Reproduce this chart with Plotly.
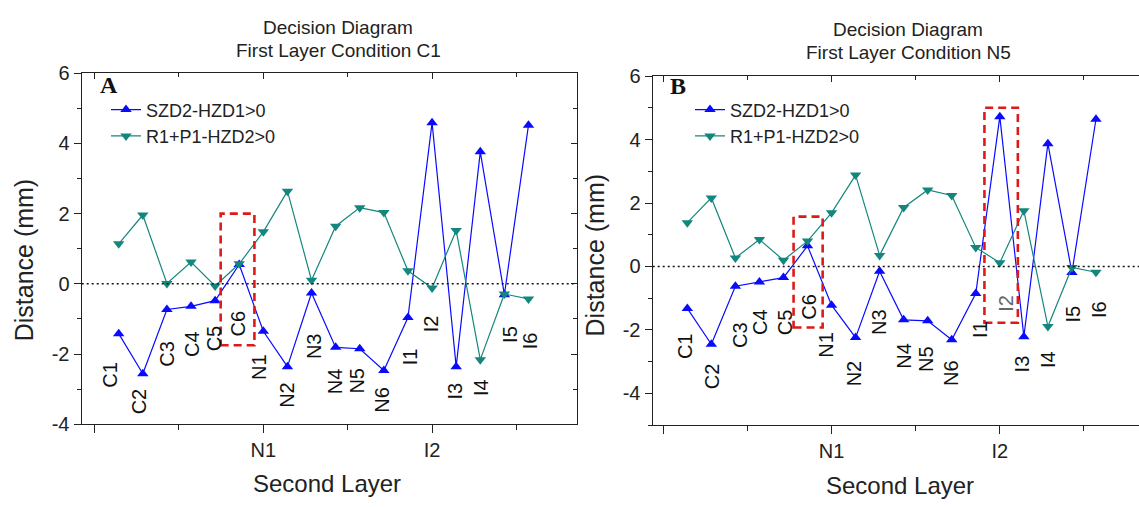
import plotly.graph_objects as go

# ---------------- data ----------------
categories = ["C1", "C2", "C3", "C4", "C5", "C6",
              "N1", "N2", "N3", "N4", "N5", "N6",
              "I1", "I2", "I3", "I4", "I5", "I6"]

szd_A = [-1.42, -2.56, -0.73, -0.64, -0.48, 0.55, -1.35, -2.36, -0.26,
         -1.81, -1.85, -2.47, -0.96, 4.59, -2.36, 3.76, -0.31, 4.52]
rp_A = [1.14, 1.96, 0.01, 0.62, -0.06, 0.57, 1.48, 2.64, 0.10,
        1.64, 2.17, 2.03, 0.37, -0.12, 1.52, -2.16, -0.29, -0.43]

szd_B = [-1.32, -2.45, -0.62, -0.49, -0.35, 0.65, -1.22, -2.24, -0.15,
         -1.68, -1.71, -2.31, -0.85, 4.72, -2.21, 3.87, -0.19, 4.64]
rp_B = [1.38, 2.16, 0.27, 0.85, 0.20, 0.80, 1.69, 2.88, 0.35,
        1.86, 2.41, 2.24, 0.60, 0.12, 1.76, -1.89, -0.03, -0.18]

series_names = ["SZD2-HZD1>0", "R1+P1-HZD2>0"]
x_major_ticks = [-1, 6, 13]
x_major_text = ["", "N1", "I2"]
x_minor_ticks = [2.5, 9.5, 16.5]

# label anchor positions (layout) for the category annotations
lab_A = [(-0.36, -2.59), (0.88, -3.35), (1.99, -2.0), (3.03, -1.72), (3.93, -1.54), (4.99, -1.13),
         (5.79, -2.36), (6.97, -3.17), (8.08, -1.76), (8.95, -2.76), (9.88, -2.76), (10.91, -3.31),
         (12.09, -2.09), (12.99, -1.13), (13.95, -3.04), (15.06, -2.95), (16.24, -1.45), (17.07, -1.63)]
lab_B = [(-0.10, -2.51), (1.01, -3.47), (2.19, -2.16), (3.05, -1.76), (4.06, -1.76), (5.07, -1.26),
         (5.76, -2.47), (6.97, -3.37), (8.0, -1.76), (9.0, -2.82), (9.92, -2.92), (10.99, -3.37),
         (12.17, -1.97), (13.28, -1.16), (13.9, -3.07), (15.0, -2.92), (16.05, -1.51), (17.1, -1.36)]

xs = list(range(len(categories)))

W, H = 1139, 507
FONT = "Liberation Sans, Arial, sans-serif"
AX = "#222222"
BLUE = "#0a0aff"
TEAL = "#13877d"

def px(v):
    return v / W

def py(v):
    return 1 - v / H

fig = go.Figure()

# panel A
fig.add_trace(go.Scatter(x=xs, y=szd_A, mode="lines+markers", name=series_names[0],
                         line=dict(color=BLUE, width=1.2),
                         marker=dict(symbol="triangle-up", size=10, color=BLUE),
                         xaxis="x", yaxis="y", legend="legend"))
fig.add_trace(go.Scatter(x=xs, y=rp_A, mode="lines+markers", name=series_names[1],
                         line=dict(color=TEAL, width=1.2),
                         marker=dict(symbol="triangle-down", size=10, color=TEAL),
                         xaxis="x", yaxis="y", legend="legend"))
# panel B
fig.add_trace(go.Scatter(x=xs, y=szd_B, mode="lines+markers", name=series_names[0],
                         line=dict(color=BLUE, width=1.2),
                         marker=dict(symbol="triangle-up", size=10, color=BLUE),
                         xaxis="x2", yaxis="y2", legend="legend2"))
fig.add_trace(go.Scatter(x=xs, y=rp_B, mode="lines+markers", name=series_names[1],
                         line=dict(color=TEAL, width=1.2),
                         marker=dict(symbol="triangle-down", size=10, color=TEAL),
                         xaxis="x2", yaxis="y2", legend="legend2"))
# dummy traces for mirror tick axes
fig.add_trace(go.Scatter(x=[None], y=[None], xaxis="x3", yaxis="y3", showlegend=False, hoverinfo="skip"))
fig.add_trace(go.Scatter(x=[None], y=[None], xaxis="x4", yaxis="y2", showlegend=False, hoverinfo="skip"))

xrA = [-1.535, 19.0]
xrB = [-1.44, 18.79]
domxA = [px(81.7), px(576.7)]
domyA = [py(432), py(65)]
domxB = [px(652.7), 1.0]
domyB = [py(433), py(68)]

def xaxis_common(rng, dom, anchor):
    return dict(domain=dom, range=rng, anchor=anchor, tickmode="array",
                tickvals=x_major_ticks, ticktext=x_major_text, ticks="outside",
                ticklen=8, tickwidth=1.3, tickcolor=AX,
                minor=dict(tickmode="array", tickvals=x_minor_ticks, ticks="outside",
                           ticklen=5, tickwidth=1.3, tickcolor=AX),
                showline=True, linecolor=AX, linewidth=1.4, mirror=True,
                showgrid=False, zeroline=False,
                tickfont=dict(family=FONT, size=20, color=AX))

def yaxis_common(rng, dom, anchor, vals, minor_vals, mirror):
    return dict(domain=dom, range=rng, anchor=anchor, tickmode="array",
                tickvals=vals, ticktext=[str(v) for v in vals], ticks="outside",
                ticklen=7, tickwidth=1.3, tickcolor=AX,
                minor=dict(tickmode="array", tickvals=minor_vals, ticks="outside",
                           ticklen=4, tickwidth=1.3, tickcolor=AX),
                showline=True, linecolor=AX, linewidth=1.4, mirror=mirror,
                showgrid=False, zeroline=False,
                tickfont=dict(family=FONT, size=20, color=AX))

def mirror_x(rng, dom, anchor, over):
    return dict(domain=dom, range=rng, anchor=anchor, overlaying=over, side="top",
                tickmode="array", tickvals=x_major_ticks, ticks="inside", ticklen=6,
                tickwidth=1.3, tickcolor=AX, showticklabels=False,
                minor=dict(tickmode="array", tickvals=x_minor_ticks, ticks="inside",
                           ticklen=4, tickwidth=1.3, tickcolor=AX),
                showline=False, showgrid=False, zeroline=False)

fig.update_layout(
    width=W, height=H,
    margin=dict(l=0, r=0, t=0, b=0),
    paper_bgcolor="white", plot_bgcolor="white",
    font=dict(family=FONT, color=AX),
    xaxis=xaxis_common(xrA, domxA, "y"),
    yaxis=yaxis_common([-4, 6], domyA, "x", [-4, -2, 0, 2, 4, 6], [-3, -1, 1, 3, 5], True),
    xaxis2=xaxis_common(xrB, domxB, "y2"),
    yaxis2=yaxis_common([-5, 6], domyB, "x2", [-4, -2, 0, 2, 4, 6], [-5, -3, -1, 1, 3, 5], False),
    xaxis3=mirror_x(xrA, domxA, "y", "x"),
    yaxis3=dict(domain=domyA, range=[-4, 6], anchor="x", overlaying="y", side="right",
                tickmode="array", tickvals=[-4, -2, 0, 2, 4, 6], ticks="inside", ticklen=6,
                tickwidth=1.3, tickcolor=AX, showticklabels=False,
                minor=dict(tickmode="array", tickvals=[-3, -1, 1, 3, 5], ticks="inside",
                           ticklen=4, tickwidth=1.3, tickcolor=AX),
                showline=False, showgrid=False, zeroline=False),
    xaxis4=mirror_x(xrB, domxB, "y2", "x2"),
    legend=dict(x=px(106), y=py(84), xanchor="left", yanchor="top",
                bgcolor="rgba(0,0,0,0)", borderwidth=0,
                font=dict(family=FONT, size=18, color=AX), tracegroupgap=0),
    legend2=dict(x=px(690), y=py(84), xanchor="left", yanchor="top",
                 bgcolor="rgba(0,0,0,0)", borderwidth=0,
                 font=dict(family=FONT, size=18, color=AX), tracegroupgap=0),
    showlegend=True,
)

shapes = []
# zero dotted reference lines
for xr, yr in (("x", "y"), ("x2", "y2")):
    shapes.append(dict(type="line", xref=xr + " domain", yref=yr, x0=0, x1=1, y0=0, y1=0,
                       line=dict(color="#111111", width=1.4, dash="2px,3px")))
# red dashed decision boxes
RED = "#dd1a1a"
boxes = [("x", "y", 4.23, 5.63, -1.75, 2.0),
         ("x2", "y2", 4.42, 5.63, -1.92, 1.57),
         ("x2", "y2", 12.36, 13.75, -1.77, 5.0)]
for xr, yr, x0, x1, y0, y1 in boxes:
    shapes.append(dict(type="rect", xref=xr, yref=yr, x0=x0, x1=x1, y0=y0, y1=y1,
                       line=dict(color=RED, width=2.6, dash="8px,5px"),
                       fillcolor="rgba(0,0,0,0)", layer="above"))
fig.update_layout(shapes=shapes)

ann = []

def add_text(x, y, text, size, xref="paper", yref="paper", angle=0, color=AX, family=FONT):
    ann.append(dict(x=x, y=y, xref=xref, yref=yref, text=text, showarrow=False,
                    xanchor="center", yanchor="middle", textangle=angle,
                    font=dict(family=family, size=size, color=color)))

# category labels (rotated)
for (lx, ly), name in zip(lab_A, categories):
    add_text(lx, ly, name, 20, "x", "y", -90, "#111111")
for (lx, ly), name in zip(lab_B, categories):
    col = "#666666" if name == "I2" else "#111111"
    add_text(lx, ly, name, 20, "x2", "y2", -90, col)

# titles
for cx, y1, y2, cond in ((338, 17, 41, "C1"), (908, 19, 43, "N5")):
    add_text(px(cx), py(y1), "Decision Diagram", 19)
    add_text(px(cx), py(y2), "First Layer Condition " + cond, 19)

# axis titles
for cx, cy in ((23.6, 260), (594.5, 255)):
    add_text(px(cx), py(cy), "Distance (mm)", 25, angle=-90)
for cx, cy in ((327, 494), (900, 496)):
    add_text(px(cx), py(cy), "Second Layer", 24)

# panel letters
for cx, cy, letter in ((108.5, 77, "A"), (678, 78, "B")):
    add_text(px(cx), py(cy), "<b>" + letter + "</b>", 24, color="#111111",
             family="Liberation Serif, Times New Roman, serif")

fig.update_layout(annotations=ann)

fig.write_html("out.html")
